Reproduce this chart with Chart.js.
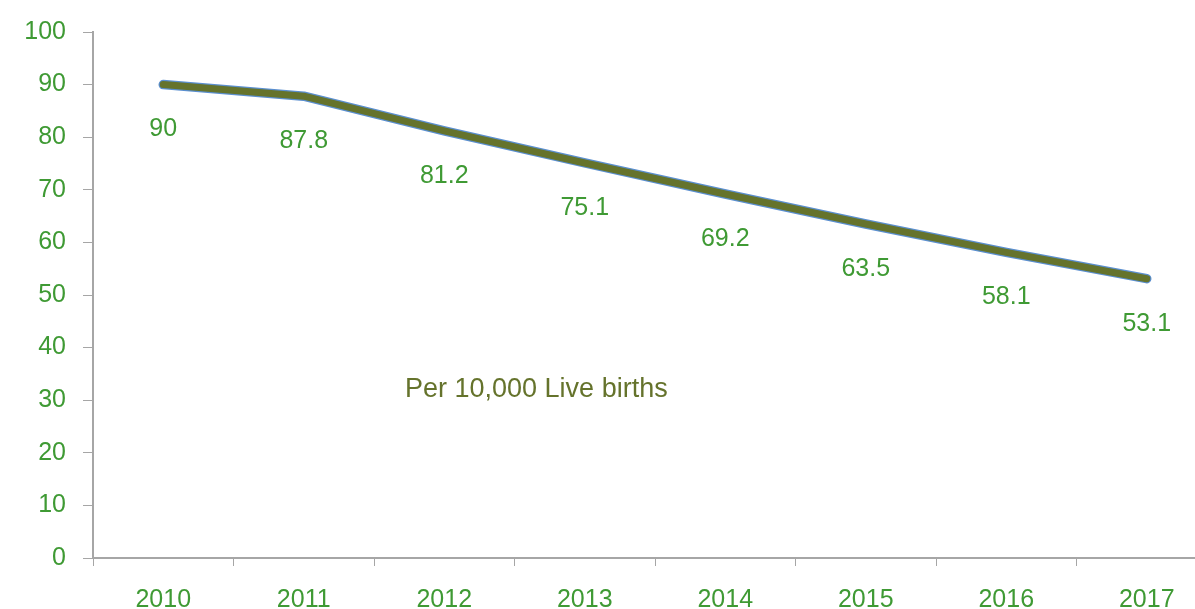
<!DOCTYPE html>
<html>
<head>
<meta charset="utf-8">
<script src="https://cdn.jsdelivr.net/npm/chart.js@4"></script>
<style>
  html, body { margin: 0; padding: 0; background: #fff; overflow: hidden; }
  #wrap { width: 1240px; height: 609px; }
</style>
</head>
<body>
<div id="wrap"><canvas id="chart"></canvas></div>
<script>
const years = ['2010', '2011', '2012', '2013', '2014', '2015', '2016', '2017'];
const rates = [90, 87.8, 81.2, 75.1, 69.2, 63.5, 58.1, 53.1];
const yTicks = [0, 10, 20, 30, 40, 50, 60, 70, 80, 90, 100];
const note = 'Per 10,000 Live births';

const FONT = '"Liberation Sans", Arial, sans-serif';
const GREEN = '#3f9a34';
const OLIVE = '#65732c';
const AXIS = '#a6a6a6';

// value labels under each point + the unit note
const labelsPlugin = {
    id: 'valueLabels',
    afterDatasetsDraw(chart) {
        const ctx = chart.ctx;
        const meta = chart.getDatasetMeta(0);
        ctx.save();
        ctx.font = '25px ' + FONT;
        ctx.fillStyle = GREEN;
        ctx.textAlign = 'center';
        ctx.textBaseline = 'middle';
        meta.data.forEach((pt, i) => {
            ctx.fillText(String(rates[i]), pt.x, pt.y + 45);
        });
        const area = chart.chartArea;
        ctx.font = '27px ' + FONT;
        ctx.fillStyle = OLIVE;
        ctx.textAlign = 'left';
        ctx.fillText(note, area.left + 312, chart.scales.y.getPixelForValue(32));
        ctx.restore();
    }
};

new Chart(document.getElementById('chart'), {
    type: 'line',
    data: {
        labels: years,
        datasets: [
            {
                // olive core, drawn on top
                data: rates,
                borderColor: OLIVE,
                borderWidth: 7,
                pointRadius: 0,
                borderCapStyle: 'round',
                borderJoinStyle: 'round',
                tension: 0
            },
            {
                // thin blue outline underneath
                data: rates,
                borderColor: '#5b8fcf',
                borderWidth: 9.5,
                pointRadius: 0,
                borderCapStyle: 'round',
                borderJoinStyle: 'round',
                tension: 0
            }
        ]
    },
    options: {
        responsive: true,
        maintainAspectRatio: false,
        animation: false,
        layout: { padding: { top: 28, right: 23, left: 0, bottom: 0 } },
        plugins: {
            legend: { display: false },
            tooltip: { enabled: false }
        },
        scales: {
            x: {
                offset: true,
                grid: {
                    offset: true,
                    drawOnChartArea: false,
                    drawTicks: true,
                    tickLength: 8,
                    color: AXIS
                },
                border: { display: true, color: AXIS, width: 2 },
                ticks: {
                    color: GREEN,
                    font: { family: FONT, size: 25 },
                    padding: 19,
                    maxRotation: 0
                },
                afterFit(scale) { scale.height = 51; }
            },
            y: {
                min: 0,
                max: 100,
                afterBuildTicks(scale) {
                    scale.ticks = yTicks.map(v => ({ value: v }));
                },
                grid: {
                    drawOnChartArea: false,
                    drawTicks: true,
                    tickLength: 10,
                    color: AXIS
                },
                border: { display: true, color: AXIS, width: 2 },
                ticks: {
                    color: GREEN,
                    font: { family: FONT, size: 25 },
                    padding: 17
                },
                afterFit(scale) { scale.width = 93; }
            }
        }
    },
    plugins: [labelsPlugin]
});
</script>
</body>
</html>
